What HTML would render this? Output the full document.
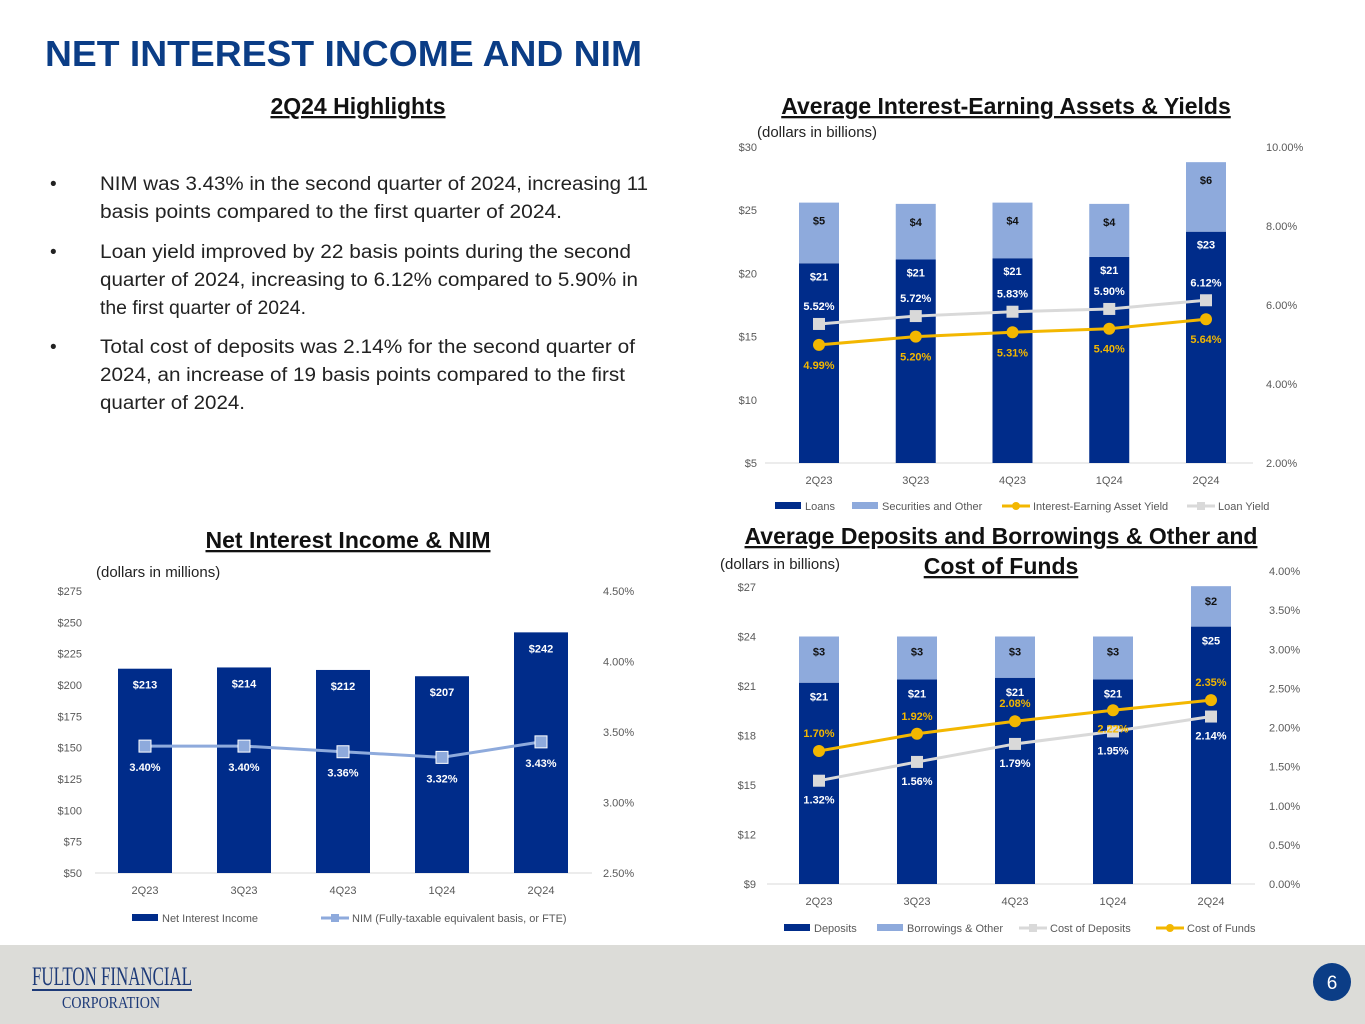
<!DOCTYPE html>
<html><head><meta charset="utf-8"><style>
body{margin:0;background:#fff;}
svg{display:block;font-family:"Liberation Sans",sans-serif;}
.tick{font-size:11px;fill:#595959;}
.lbl{font-size:11px;font-weight:bold;}
.body{font-size:19px;fill:#222;}
</style></head><body>
<svg id="page" width="1365" height="1024" viewBox="0 0 1365 1024">
<text x="45" y="66" font-size="36" font-weight="bold" fill="#0b3d86" textLength="597" lengthAdjust="spacingAndGlyphs">NET INTEREST INCOME AND NIM</text>
<text x="358" y="114" text-anchor="middle" font-size="23" font-weight="bold" fill="#111" text-decoration="underline">2Q24 Highlights</text>
<g class="body">
<text x="50" y="190">•</text>
<text x="100" y="190" textLength="548" lengthAdjust="spacingAndGlyphs">NIM was 3.43% in the second quarter of 2024, increasing 11</text>
<text x="100" y="218" textLength="462" lengthAdjust="spacingAndGlyphs">basis points compared to the first quarter of 2024.</text>
<text x="50" y="258">•</text>
<text x="100" y="258" textLength="531" lengthAdjust="spacingAndGlyphs">Loan yield improved by 22 basis points during the second</text>
<text x="100" y="286" textLength="538" lengthAdjust="spacingAndGlyphs">quarter of 2024, increasing to 6.12% compared to 5.90% in</text>
<text x="100" y="314" textLength="206" lengthAdjust="spacingAndGlyphs">the first quarter of 2024.</text>
<text x="50" y="353">•</text>
<text x="100" y="353" textLength="535" lengthAdjust="spacingAndGlyphs">Total cost of deposits was 2.14% for the second quarter of</text>
<text x="100" y="381" textLength="525" lengthAdjust="spacingAndGlyphs">2024, an increase of 19 basis points compared to the first</text>
<text x="100" y="409" textLength="145" lengthAdjust="spacingAndGlyphs">quarter of 2024.</text>
</g>
<text x="1006" y="114" text-anchor="middle" font-size="23" font-weight="bold" fill="#111" text-decoration="underline">Average Interest-Earning Assets &amp; Yields</text>
<text x="757" y="137" font-size="15" fill="#222">(dollars in billions)</text>
<text x="348" y="548" text-anchor="middle" font-size="23" font-weight="bold" fill="#111" text-decoration="underline">Net Interest Income &amp; NIM</text>
<text x="96" y="577" font-size="15" fill="#222">(dollars in millions)</text>
<text x="1001" y="544" text-anchor="middle" font-size="23" font-weight="bold" fill="#111" text-decoration="underline">Average Deposits and Borrowings &amp; Other and</text>
<text x="1001" y="574" text-anchor="middle" font-size="23" font-weight="bold" fill="#111" text-decoration="underline">Cost of Funds</text>
<text x="720" y="569" font-size="15" fill="#222">(dollars in billions)</text>
<g id="c1"></g>
<g id="c2"></g>
<g id="c3"></g>
<rect x="0" y="945" width="1365" height="79" fill="#dcdcd8"/>
<g>
<text x="32" y="985" font-family="Liberation Serif,serif" font-size="26" fill="#1d3a78" textLength="160" lengthAdjust="spacingAndGlyphs">FULTON FINANCIAL</text>
<rect x="32" y="989" width="160" height="2" fill="#1d3a78"/>
<text x="62" y="1008" font-family="Liberation Serif,serif" font-size="17" fill="#1d3a78" textLength="98" lengthAdjust="spacingAndGlyphs">CORPORATION</text>
</g>
<circle cx="1332" cy="982" r="19" fill="#0b3d86"/>
<text x="1332" y="989" text-anchor="middle" font-size="19" fill="#fff">6</text>
</svg>
<script>
const NS='http://www.w3.org/2000/svg';
function el(p,t,a,txt){const e=document.createElementNS(NS,t);for(const k in a)e.setAttribute(k,a[k]);if(txt!==undefined)e.textContent=txt;p.appendChild(e);return e;}
const NAVY='#002c8a',LIGHT='#8eaadc',GOLD='#f3b700',GREY='#d9d9d9';

// Chart 1 data
const cats=['2Q23','3Q23','4Q23','1Q24','2Q24'];
const loans=[20.8,21.1,21.2,21.3,23.3];
const secs=[4.8,4.4,4.4,4.2,5.5];
const secLabels=['$5','$4','$4','$4','$6'];
const loanLabels=['$21','$21','$21','$21','$23'];
const assetYield=[4.99,5.20,5.31,5.40,5.64];
const loanYield=[5.52,5.72,5.83,5.90,6.12];
const c1Left=[5,10,15,20,25,30];
const c1Right=[2,4,6,8,10];

// Chart 2 data
const nii=[213,214,212,207,242];
const nim=[3.40,3.40,3.36,3.32,3.43];
const c2Left=[50,75,100,125,150,175,200,225,250,275];
const c2Right=[2.5,3.0,3.5,4.0,4.5];

// Chart 3 data
const deposits=[21.2,21.4,21.5,21.4,24.6];
const borrow=[2.8,2.6,2.5,2.6,2.45];
const depLabels=['$21','$21','$21','$21','$25'];
const borLabels=['$3','$3','$3','$3','$2'];
const costDep=[1.32,1.56,1.79,1.95,2.14];
const costFunds=[1.70,1.92,2.08,2.22,2.35];
const c3Left=[9,12,15,18,21,24,27];
const c3Right=[0,0.5,1,1.5,2,2.5,3,3.5,4];

function axes(g,o){
  const yL=v=>o.y0-(v-o.lmin)/(o.lmax-o.lmin)*(o.y0-o.y1);
  const yR=v=>o.y0-(v-o.rmin)/(o.rmax-o.rmin)*(o.y0-o.r1);
  const x=i=>o.xs+i*o.dx;
  o.lt.forEach(v=>{const t=el(g,'text',{x:o.lx,y:yL(v)+4,'text-anchor':'end',class:'tick'},'$'+v);});
  o.rt.forEach(v=>{const t=el(g,'text',{x:o.rx,y:yR(v)+4,class:'tick'},v.toFixed(2)+'%');});
  const b=el(g,'line',{x1:o.ax0,x2:o.ax1,y1:o.y0,y2:o.y0,stroke:'#d9d9d9','stroke-width':1});
  
  cats.forEach((c,i)=>{const t=el(g,'text',{x:x(i),y:o.y0+21,'text-anchor':'middle',class:'tick'},c);});
  return {yL,yR,x,lmin:o.lmin};
}
function bars(g,s,vals,base,w,col,name){
  vals.forEach((v,i)=>{
    const bot=base?s.yL(base[i]):s.yL(s.lmin);
    const top=base?s.yL(base[i]+v):s.yL(v);
    const r=el(g,'rect',{x:s.x(i)-w/2,y:top,width:w,height:bot-top,fill:col});
    });
}
function line(g,s,vals,col,marker,name){
  const pts=vals.map((v,i)=>s.x(i)+','+s.yR(v)).join(' ');
  const l=el(g,'polyline',{points:pts,fill:'none',stroke:col,'stroke-width':3});
  
  vals.forEach((v,i)=>{let m;
    if(marker==='c')m=el(g,'circle',{cx:s.x(i),cy:s.yR(v),r:6,fill:col});
    else m=el(g,'rect',{x:s.x(i)-6,y:s.yR(v)-6,width:12,height:12,fill:col,stroke:marker==='s2'?'#fff':'none','stroke-width':1});
    });
}
function labels(g,s,vals,ys,fmt,col,name){
  vals.forEach((v,i)=>{const t=el(g,'text',{x:s.x(i),y:ys(v,i),'text-anchor':'middle',class:'lbl',fill:col},fmt(v,i));
  });
}
function legend(g,items,y){
  items.forEach(it=>{
    if(it.t==='b'){const r=el(g,'rect',{x:it.x,y:y-4,width:26,height:7,fill:it.c});}
    else{const l=el(g,'line',{x1:it.x,x2:it.x+28,y1:y,y2:y,stroke:it.c,'stroke-width':3});
      const m=it.m==='c'?el(g,'circle',{cx:it.x+14,cy:y,r:4,fill:it.c}):el(g,'rect',{x:it.x+10,y:y-4,width:8,height:8,fill:it.c});}
    const t=el(g,'text',{x:it.x+(it.t==='b'?30:31),y:y+4,class:'tick'},it.l);
    
  });
}

// Chart 1
(function(){
  const g=document.getElementById('c1');
  const s=axes(g,{y0:463,y1:147,lmin:5,lmax:30,r1:147,rmin:2,rmax:10,xs:819,dx:96.75,lx:757,rx:1266,ax0:765,ax1:1253,lt:c1Left,rt:c1Right});
  bars(g,s,loans,null,40,NAVY,'loans-bar');
  bars(g,s,secs,loans,40,LIGHT,'securities-bar');
  labels(g,s,secs,(v,i)=>s.yL(loans[i]+v)+22,(v,i)=>secLabels[i],'#111','securities-label');
  labels(g,s,loans,(v,i)=>s.yL(v)+17,(v,i)=>loanLabels[i],'#fff','loans-label');
  line(g,s,loanYield,GREY,'s','loan-yield');
  line(g,s,assetYield,GOLD,'c','asset-yield');
  labels(g,s,loanYield,v=>s.yR(v)-14,v=>v.toFixed(2)+'%','#fff','loan-yield-label');
  labels(g,s,assetYield,v=>s.yR(v)+24,v=>v.toFixed(2)+'%',GOLD,'asset-yield-label');
  legend(g,[{t:'b',x:775,c:NAVY,l:'Loans'},{t:'b',x:852,c:LIGHT,l:'Securities and Other'},{t:'l',x:1002,c:GOLD,m:'c',l:'Interest-Earning Asset Yield'},{t:'l',x:1187,c:GREY,m:'s',l:'Loan Yield'}],506);
})();
// Chart 2
(function(){
  const g=document.getElementById('c2');
  const s=axes(g,{y0:873,y1:591,lmin:50,lmax:275,r1:591,rmin:2.5,rmax:4.5,xs:145,dx:99,lx:82,rx:603,ax0:95,ax1:592,lt:c2Left,rt:c2Right});
  bars(g,s,nii,null,54,NAVY,'nii-bar');
  labels(g,s,nii,v=>s.yL(v)+20,v=>'$'+v,'#fff','nii-label');
  line(g,s,nim,LIGHT,'s2','nim');
  labels(g,s,nim,v=>s.yR(v)+25,v=>v.toFixed(2)+'%','#fff','nim-label');
  legend(g,[{t:'b',x:132,c:NAVY,l:'Net Interest Income'},{t:'l',x:321,c:LIGHT,m:'s',l:'NIM (Fully-taxable equivalent basis, or FTE)'}],918);
})();
// Chart 3
(function(){
  const g=document.getElementById('c3');
  const s=axes(g,{y0:884,y1:587,lmin:9,lmax:27,r1:571,rmin:0,rmax:4,xs:819,dx:98,lx:756,rx:1269,ax0:767,ax1:1255,lt:c3Left,rt:c3Right});
  bars(g,s,deposits,null,40,NAVY,'deposits-bar');
  bars(g,s,borrow,deposits,40,LIGHT,'borrowings-bar');
  labels(g,s,borrow,(v,i)=>s.yL(deposits[i]+v)+19,(v,i)=>borLabels[i],'#111','borrowings-label');
  labels(g,s,deposits,(v,i)=>s.yL(v)+18,(v,i)=>depLabels[i],'#fff','deposits-label');
  line(g,s,costDep,GREY,'s','cost-of-deposits');
  line(g,s,costFunds,GOLD,'c','cost-of-funds');
  labels(g,s,costDep,v=>s.yR(v)+23,v=>v.toFixed(2)+'%','#fff','cost-of-deposits-label');
  labels(g,s,costFunds,(v,i)=>i===3?s.yR(v)+22:s.yR(v)-14,v=>v.toFixed(2)+'%',GOLD,'cost-of-funds-label');
  legend(g,[{t:'b',x:784,c:NAVY,l:'Deposits'},{t:'b',x:877,c:LIGHT,l:'Borrowings & Other'},{t:'l',x:1019,c:GREY,m:'s',l:'Cost of Deposits'},{t:'l',x:1156,c:GOLD,m:'c',l:'Cost of Funds'}],928);
})();
</script>
</body></html>
